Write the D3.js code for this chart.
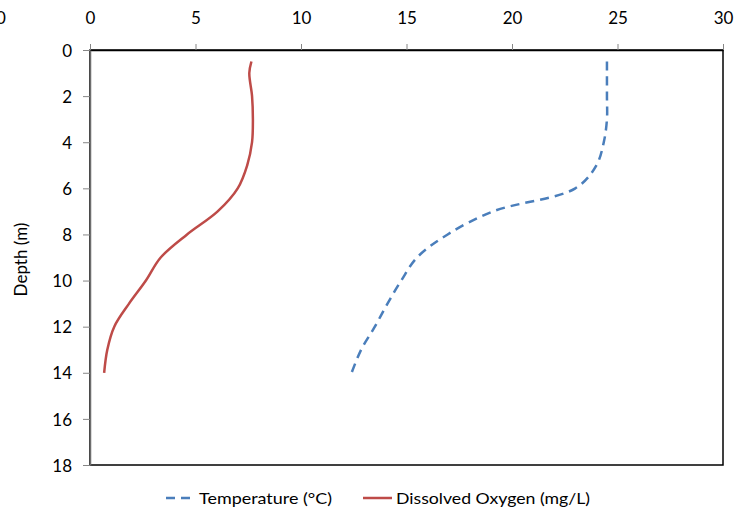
<!DOCTYPE html>
<html>
<head>
<meta charset="utf-8">
<script src="https://cdn.jsdelivr.net/npm/d3@7"></script>
<style>
  html, body { margin: 0; padding: 0; background: #fff; }
  svg { display: block; }
  text { font-family: Lato, "Open Sans", sans-serif; fill: #000; }
</style>
</head>
<body>
<svg id="chart" width="750" height="512"></svg>
<script>
// ---- data ----
const depths      = [0.5, 1, 2, 3, 4, 5, 6, 7, 8, 9, 10, 11, 12, 13, 14];
const temperature = [24.5, 24.5, 24.5, 24.5, 24.35, 24.0, 23.0, 19.1, 16.95, 15.5, 14.75, 14.1, 13.5, 12.85, 12.4];
const oxygen      = [7.65, 7.55, 7.68, 7.72, 7.68, 7.45, 7.0, 6.05, 4.6, 3.35, 2.65, 1.85, 1.15, 0.82, 0.67];
const xTicks = [0, 5, 10, 15, 20, 25, 30];
const yTicks = [0, 2, 4, 6, 8, 10, 12, 14, 16, 18];
const seriesNames = ["Temperature (°C)", "Dissolved Oxygen (mg/L)"];
const yTitle = "Depth (m)";

const svg = d3.select("#chart");
const L = 90, R = 723, T = 50, B = 465;
const x = d3.scaleLinear().domain([0, 30]).range([L, R]);
const y = d3.scaleLinear().domain([0, 18]).range([T, B]);

// partial label at top-left (cut off at the edge in the reference too)
svg.append("text").attr("x", 1).attr("y", 24).attr("text-anchor", "middle")
  .style("font-size", "17px").text("0");

// plot frame
svg.append("rect").attr("x", L).attr("y", T).attr("width", R - L).attr("height", B - T)
  .attr("fill", "none").attr("stroke", "#000").attr("stroke-width", 1.5);

// top axis
const gx = svg.append("g").attr("transform", `translate(0,${T})`)
  .call(d3.axisTop(x).tickValues(xTicks).tickSize(6).tickPadding(20).tickSizeOuter(0));
gx.select(".domain").attr("stroke", "#000").attr("stroke-width", 1.5);
gx.selectAll(".tick line").attr("stroke", "#868686");
gx.selectAll(".tick text").style("font-size", "17px").attr("fill", "#000");

// left axis
const gy = svg.append("g").attr("transform", `translate(${L},0)`)
  .call(d3.axisLeft(y).tickValues(yTicks).tickSize(7).tickPadding(11).tickSizeOuter(0));
gy.select(".domain").attr("stroke", "#6e6e6e").attr("stroke-width", 1.5);
gy.selectAll(".tick line").attr("stroke", "#868686");
gy.selectAll(".tick text").style("font-size", "17px").attr("fill", "#000").attr("dy", "0.36em");

// y-axis title
svg.append("text").attr("transform", `translate(27,${(T + B) / 2 + 2}) rotate(-90)`)
  .attr("text-anchor", "middle").style("font-size", "17px").text(yTitle);

// lines
const tempData = depths.map((d, i) => ({ d, v: temperature[i] }));
const oxData = depths.map((d, i) => ({ d, v: oxygen[i] }));
const line = d3.line().x(p => x(p.v)).y(p => y(p.d)).curve(d3.curveCatmullRom.alpha(0.5));

svg.append("path").datum(tempData).attr("d", line)
  .attr("fill", "none").attr("stroke", "#4A7EBB").attr("stroke-width", 2.5)
  .attr("stroke-dasharray", "9,6");
svg.append("path").datum(oxData).attr("d", line)
  .attr("fill", "none").attr("stroke", "#BE4B48").attr("stroke-width", 2.5);

// legend
const lg = svg.append("g");
lg.append("line").attr("x1", 166).attr("x2", 193).attr("y1", 498).attr("y2", 498)
  .attr("stroke", "#4A7EBB").attr("stroke-width", 2.5).attr("stroke-dasharray", "9,6");
lg.append("text").attr("x", 199).attr("y", 504).style("font-size", "16px")
  .attr("textLength", 133).attr("lengthAdjust", "spacingAndGlyphs").text(seriesNames[0]);
lg.append("line").attr("x1", 363).attr("x2", 392).attr("y1", 498).attr("y2", 498)
  .attr("stroke", "#BE4B48").attr("stroke-width", 2.5);
lg.append("text").attr("x", 396).attr("y", 504).style("font-size", "16px")
  .attr("textLength", 194).attr("lengthAdjust", "spacingAndGlyphs").text(seriesNames[1]);
</script>
</body>
</html>
